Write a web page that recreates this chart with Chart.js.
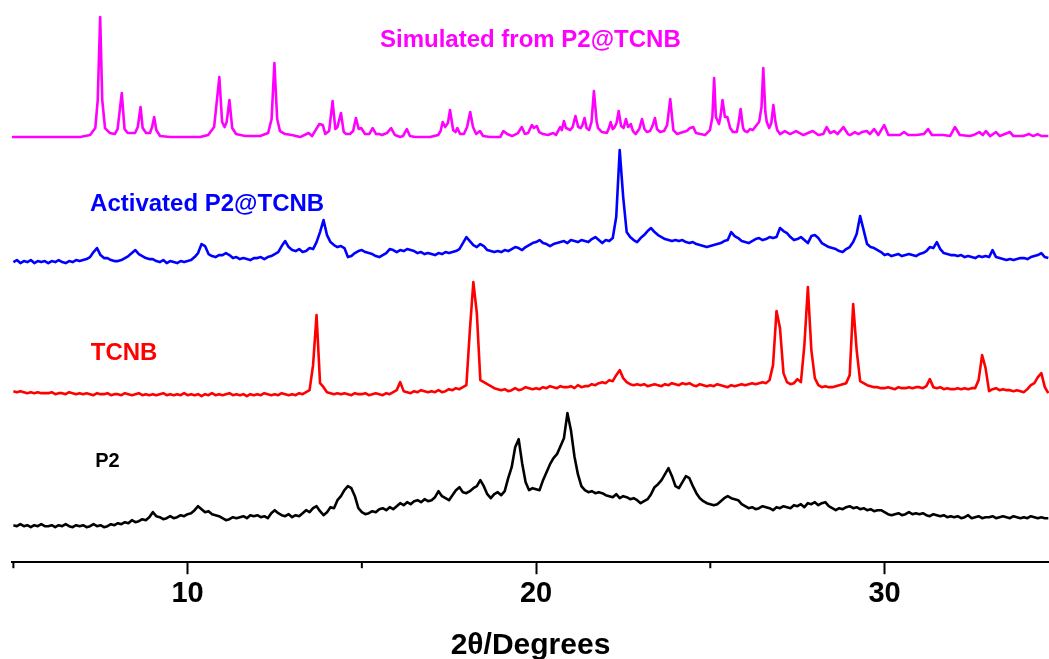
<!DOCTYPE html>
<html>
<head>
<meta charset="utf-8">
<script src="https://cdn.jsdelivr.net/npm/chart.js@4/dist/chart.umd.min.js"></script>
<style>
  html, body { margin: 0; padding: 0; background: #fff; }
  #wrap { width: 1049px; height: 659px; position: relative; }
</style>
</head>
<body>
<div id="wrap"><canvas id="xrdChart"></canvas></div>
<script>
// ---------- DATA ----------
// experimental scans: 2theta grid from 5.0 to 34.7 in 0.1 steps
const thetaStart = 5.0;
const thetaStep = 0.1;

const p2Counts = [
  1, 0, 2, 0, 1, -1, 1, 0, 2, 0,
  0, 1, -1, 1, 0, 2, 0, -1, 1, 0,
  1, -1, 0, 2, 0, 1, -1, 0, 2, 1,
  3, 2, 4, 3, 6, 4, 5, 7, 6, 9,
  14, 10, 9, 7, 8, 10, 8, 9, 11, 10,
  12, 13, 16, 20, 17, 14, 15, 12, 11, 10,
  8, 6, 7, 9, 8, 9, 10, 8, 11, 10,
  11, 9, 10, 8, 13, 16, 13, 11, 10, 12,
  9, 11, 10, 13, 16, 14, 18, 20, 15, 11,
  14, 19, 18, 26, 30, 36, 40, 38, 30, 18,
  14, 12, 13, 15, 14, 17, 18, 16, 19, 17,
  20, 23, 21, 24, 22, 25, 26, 24, 27, 25,
  26, 29, 35, 30, 28, 26, 31, 36, 39, 34,
  33, 35, 38, 40, 46, 40, 32, 28, 32, 34,
  31, 35, 48, 59, 79, 87, 63, 44, 36, 38,
  37, 36, 46, 54, 62, 68, 72, 80, 88, 113,
  96, 70, 52, 40, 36, 34, 35, 33, 34, 33,
  31, 30, 29, 32, 28, 30, 29, 27, 28, 26,
  23, 25, 27, 32, 39, 42, 46, 52, 58, 50,
  40, 38, 44, 50, 48, 40, 33, 28, 25, 23,
  22, 21, 22, 25, 28, 30, 28, 27, 26, 22,
  20, 18, 19, 17, 18, 20, 19, 18, 16, 19,
  18, 20, 19, 18, 21, 20, 22, 19, 23, 22,
  24, 21, 23, 24, 20, 18, 16, 18, 17, 19,
  20, 18, 19, 17, 18, 16, 17, 15, 16, 16,
  14, 12, 11, 12, 13, 11, 12, 14, 12, 13,
  12, 13, 11, 10, 12, 11, 10, 11, 9, 10,
  9, 10, 8, 9, 11, 8, 9, 10, 8, 9,
  9, 10, 8, 9, 10, 9, 8, 10, 9, 8,
  9, 8, 10, 9, 8, 9, 8, 8
];

const tcnbCounts = [
  4, 3, 4, 3, 2, 3, 2, 3, 2, 2,
  2, 3, 1, 2, 2, 1, 3, 2, 1, 2,
  1, 2, 1, 0, 2, 1, 1, 2, 0, 1,
  1, 0, 2, 1, 0, 1, 2, 0, 1, 0,
  1, 0, 1, 2, 0, 1, 0, 1, 0, 2,
  0, 1, 0, 1, -1, 1, 0, 2, 0, 1,
  0, 1, 2, 0, 1, 0, 1, -1, 1, 0,
  1, 0, 2, 1, 0, 1, 0, 2, 1, 0,
  1, 0, 2, 1, 3, 5, 30, 80, 12, 8,
  3, 2, 1, 2, 1, 2, 1, 0, 2, 1,
  1, 2, 0, 1, 2, 1, 0, 2, 1, 3,
  5, 13, 4, 3, 2, 4, 3, 5, 4, 3,
  4, 3, 5, 3, 4, 6, 5, 7, 6, 8,
  10, 65, 113, 82, 15, 13, 11, 9, 7, 6,
  5, 6, 4, 5, 7, 5, 6, 8, 7, 6,
  7, 6, 8, 7, 9, 8, 7, 9, 8, 8,
  9, 7, 10, 8, 9, 9, 11, 10, 12, 13,
  12, 15, 14, 20, 25, 17, 13, 11, 10, 11,
  10, 11, 9, 10, 11, 10, 9, 11, 10, 12,
  11, 10, 12, 11, 12, 10, 9, 11, 10, 9,
  10, 9, 11, 10, 9, 8, 10, 9, 10, 11,
  10, 11, 12, 11, 12, 13, 12, 15, 30, 84,
  67, 22, 13, 11, 12, 16, 13, 50, 108, 45,
  17, 10, 8, 9, 8, 8, 9, 10, 11, 12,
  20, 91, 45, 14, 12, 10, 9, 8, 8, 7,
  7, 8, 7, 6, 8, 7, 7, 8, 7, 8,
  8, 7, 9, 16, 8, 7, 8, 6, 7, 6,
  6, 7, 6, 7, 6, 7, 7, 15, 40, 27,
  4, 6, 7, 5, 6, 5, 5, 4, 5, 4,
  3, 6, 10, 12, 18, 22, 8, 2
];

const activatedCounts = [
  0, 2, -1, 1, 0, 2, -1, 1, 0, 1,
  -1, 1, 0, 2, 0, -1, 1, 0, 2, 1,
  2, 3, 5, 10, 14, 7, 4, 4, 2, 1,
  1, 2, 4, 6, 9, 12, 8, 6, 4, 3,
  3, 1, 0, 2, -1, 1, 0, -1, 1, 0,
  1, 2, 5, 9, 18, 16, 8, 6, 5, 7,
  7, 9, 7, 4, 5, 3, 4, 3, 2, 4,
  4, 5, 3, 5, 6, 8, 10, 16, 21, 15,
  12, 11, 13, 10, 11, 14, 13, 20, 30, 42,
  27, 20, 17, 15, 16, 14, 5, 6, 9, 11,
  12, 10, 9, 8, 6, 5, 7, 9, 13, 12,
  10, 12, 11, 13, 12, 11, 9, 10, 8, 9,
  8, 7, 9, 8, 10, 9, 10, 11, 13, 19,
  25, 21, 17, 15, 18, 16, 12, 11, 10, 11,
  10, 12, 11, 13, 15, 14, 12, 15, 17, 19,
  20, 22, 19, 18, 16, 18, 19, 20, 21, 19,
  22, 21, 20, 22, 21, 20, 23, 25, 22, 19,
  22, 21, 24, 45, 112, 65, 30, 25, 22, 20,
  24, 27, 31, 34, 30, 27, 25, 23, 22, 21,
  22, 21, 22, 20, 19, 20, 18, 17, 16, 15,
  16, 17, 18, 19, 21, 22, 30, 26, 24, 21,
  20, 19, 21, 23, 24, 22, 23, 25, 24, 25,
  34, 31, 29, 25, 22, 23, 25, 22, 19, 26,
  27, 24, 19, 17, 15, 14, 13, 11, 10, 13,
  15, 20, 28, 46, 32, 18, 15, 14, 12, 10,
  7, 8, 6, 7, 8, 6, 7, 8, 7, 6,
  8, 9, 11, 15, 14, 20, 13, 9, 8, 7,
  7, 6, 7, 5, 6, 5, 4, 6, 5, 6,
  5, 12, 5, 4, 3, 2, 3, 2, 3, 4,
  4, 3, 5, 6, 7, 9, 5, 4
];

// simulated pattern: smooth, read at its own 2theta positions
const simTheta = [
  4.96, 6.92, 7.20, 7.35, 7.42, 7.49, 7.55, 7.63, 7.77, 7.91,
  7.99, 8.11, 8.19, 8.28, 8.49, 8.57, 8.65, 8.71, 8.81, 8.92,
  8.98, 9.04, 9.10, 9.21, 9.50, 10.36, 10.59, 10.76, 10.91, 10.99,
  11.06, 11.12, 11.20, 11.28, 11.39, 11.65, 12.08, 12.31, 12.41, 12.49,
  12.57, 12.65, 12.80, 12.99, 13.23, 13.47, 13.57, 13.69, 13.78, 13.88,
  13.95, 14.06, 14.16, 14.24, 14.30, 14.40, 14.48, 14.55, 14.66, 14.75,
  14.83, 14.91, 14.98, 15.09, 15.21, 15.31, 15.41, 15.50, 15.58, 15.72,
  15.84, 15.95, 16.10, 16.18, 16.29, 16.38, 16.53, 16.96, 17.19, 17.26,
  17.32, 17.39, 17.47, 17.53, 17.62, 17.69, 17.74, 17.82, 17.93, 18.02,
  18.11, 18.19, 18.28, 18.39, 18.48, 18.68, 18.97, 19.06, 19.17, 19.31,
  19.48, 19.59, 19.68, 19.77, 19.88, 19.94, 20.02, 20.09, 20.20, 20.34,
  20.49, 20.57, 20.69, 20.74, 20.80, 20.86, 20.98, 21.05, 21.13, 21.21,
  21.28, 21.33, 21.39, 21.45, 21.52, 21.59, 21.66, 21.74, 21.78, 21.89,
  22.03, 22.08, 22.14, 22.20, 22.24, 22.31, 22.37, 22.44, 22.51, 22.58,
  22.64, 22.72, 22.78, 22.86, 22.96, 23.04, 23.11, 23.18, 23.27, 23.34,
  23.41, 23.47, 23.56, 23.67, 23.76, 23.85, 23.94, 24.05, 24.22, 24.32,
  24.42, 24.51, 24.59, 24.71, 24.85, 24.99, 25.06, 25.11, 25.16, 25.20,
  25.25, 25.29, 25.35, 25.42, 25.49, 25.57, 25.65, 25.76, 25.81, 25.87,
  25.94, 25.99, 26.06, 26.14, 26.22, 26.33, 26.40, 26.47, 26.52, 26.58,
  26.62, 26.69, 26.75, 26.81, 26.87, 26.92, 27.00, 27.14, 27.29, 27.46,
  27.67, 27.94, 28.10, 28.24, 28.34, 28.44, 28.55, 28.65, 28.82, 28.95,
  29.01, 29.15, 29.25, 29.35, 29.49, 29.58, 29.70, 29.82, 29.99, 30.11,
  30.25, 30.44, 30.56, 30.68, 30.92, 31.13, 31.25, 31.36, 31.69, 31.88,
  32.02, 32.16, 32.45, 32.55, 32.72, 32.82, 32.91, 33.03, 33.20, 33.31,
  33.60, 33.70, 33.98, 34.15, 34.27, 34.39, 34.51, 34.70
];
const simCounts = [
  0, 0, 2, 9, 37, 120, 37, 9, 4, 3,
  8, 44, 8, 4, 4, 10, 30, 9, 4, 4,
  10, 20, 7, 1, 0, 0, 2, 10, 60, 15,
  10, 15, 37, 9, 3, 1, 1, 4, 18, 74,
  18, 6, 3, 2, 0, 4, 1, 8, 13, 12,
  3, 6, 36, 8, 10, 24, 5, 3, 3, 6,
  19, 8, 9, 3, 3, 9, 3, 3, 2, 4,
  9, 2, 0, 1, 8, 1, 0, 0, 2, 6,
  15, 10, 14, 27, 7, 5, 9, 3, 3, 10,
  25, 10, 3, 6, 1, 0, 0, 6, 3, 1,
  4, 10, 3, 4, 12, 9, 11, 5, 3, 2,
  4, 2, 10, 7, 16, 9, 7, 10, 21, 10,
  9, 12, 19, 9, 7, 15, 46, 15, 9, 5,
  4, 8, 15, 8, 9, 14, 26, 11, 9, 18,
  10, 13, 6, 3, 8, 18, 8, 5, 6, 11,
  19, 8, 5, 6, 12, 38, 7, 3, 5, 6,
  9, 10, 4, 3, 2, 7, 20, 59, 20, 17,
  13, 20, 37, 20, 20, 9, 5, 5, 14, 28,
  9, 6, 5, 8, 7, 12, 15, 30, 69, 25,
  15, 9, 14, 32, 15, 7, 3, 6, 3, 6,
  2, 6, 2, 3, 10, 4, 6, 3, 10, 3,
  2, 5, 3, 5, 6, 3, 8, 2, 12, 2,
  2, 2, 5, 2, 2, 3, 8, 2, 2, 1,
  10, 2, 1, 2, 5, 2, 6, 1, 5, 1,
  5, 1, 1, 3, 1, 3, 1, 1
];

// vertical stacking of the four patterns
const seriesNames = ["P2", "TCNB", "Activated P2@TCNB", "Simulated from P2@TCNB"];
const seriesOffsets = [36, 167, 300, 425];
const seriesColors = ["#000000", "#ff0000", "#0000ff", "#ff00ff"];

// label anchors, in axis units (2theta, stacked intensity)
const labelTheta = [7.35, 7.22, 7.2, 15.52];
const labelLevel = [95, 202, 351, 515];
const labelSizes = [20, 24, 24, 24];

const xTicks = [10, 20, 30];
const xMinorTicks = [5, 15, 25];

// ---------- BUILD DATASETS ----------
function gridPoints(counts, offset) {
  return counts.map((c, i) => ({
    x: +(thetaStart + i * thetaStep).toFixed(2),
    y: c + offset
  }));
}

let rawSeries = [
  gridPoints(p2Counts, seriesOffsets[0]),
  gridPoints(tcnbCounts, seriesOffsets[1]),
  gridPoints(activatedCounts, seriesOffsets[2]),
  simTheta.map((t, i) => ({ x: t, y: simCounts[i] + seriesOffsets[3] }))
];

let datasets = rawSeries.map((pts, i) => ({
  label: seriesNames[i],
  data: pts,
  borderColor: seriesColors[i],
  borderWidth: 2.6,
  borderJoinStyle: "round",
  pointRadius: 0,
  tension: 0,
  fill: false
}));

// ---------- PLUGIN: curve labels + minor ticks ----------
const decorations = {
  id: "decorations",
  afterDraw(chart) {
    const ctx = chart.ctx;
    const xs = chart.scales.x;
    const ys = chart.scales.y;
    ctx.save();
    seriesNames.forEach((name, i) => {
      ctx.font = `bold ${labelSizes[i]}px "Liberation Sans", Arial, sans-serif`;
      ctx.fillStyle = seriesColors[i];
      ctx.textAlign = "left";
      ctx.textBaseline = "alphabetic";
      ctx.fillText(name, xs.getPixelForValue(labelTheta[i]), ys.getPixelForValue(labelLevel[i]));
    });
    const bottom = chart.chartArea.bottom;
    ctx.strokeStyle = "#000";
    ctx.lineWidth = 2;
    xMinorTicks.forEach(v => {
      let px = xs.getPixelForValue(v);
      ctx.beginPath();
      ctx.moveTo(px, bottom);
      ctx.lineTo(px, bottom + 6);
      ctx.stroke();
    });
    ctx.restore();
  }
};

new Chart(document.getElementById("xrdChart"), {
  type: "line",
  data: { datasets: datasets },
  plugins: [decorations],
  options: {
    responsive: true,
    maintainAspectRatio: false,
    animation: false,
    layout: { padding: { left: 12, right: 0, top: 0, bottom: -5 } },
    plugins: {
      legend: { display: false },
      tooltip: { enabled: false }
    },
    scales: {
      x: {
        type: "linear",
        min: 4.96,
        max: 34.72,
        afterBuildTicks: axis => { axis.ticks = xTicks.map(v => ({ value: v })); },
        ticks: {
          color: "#000",
          padding: 2,
          font: { family: '"Liberation Sans", Arial, sans-serif', size: 29, weight: "bold" }
        },
        grid: {
          display: true,
          drawOnChartArea: false,
          drawTicks: true,
          tickLength: 12,
          tickWidth: 2,
          tickColor: "#000"
        },
        border: { display: true, color: "#000", width: 2 },
        title: {
          display: true,
          text: "2θ/Degrees",
          color: "#000",
          padding: { top: 15, bottom: 0 },
          font: { family: '"Liberation Sans", Arial, sans-serif', size: 30, weight: "bold" }
        }
      },
      y: {
        display: false,
        min: 0,
        max: 562
      }
    }
  }
});
</script>
</body>
</html>
